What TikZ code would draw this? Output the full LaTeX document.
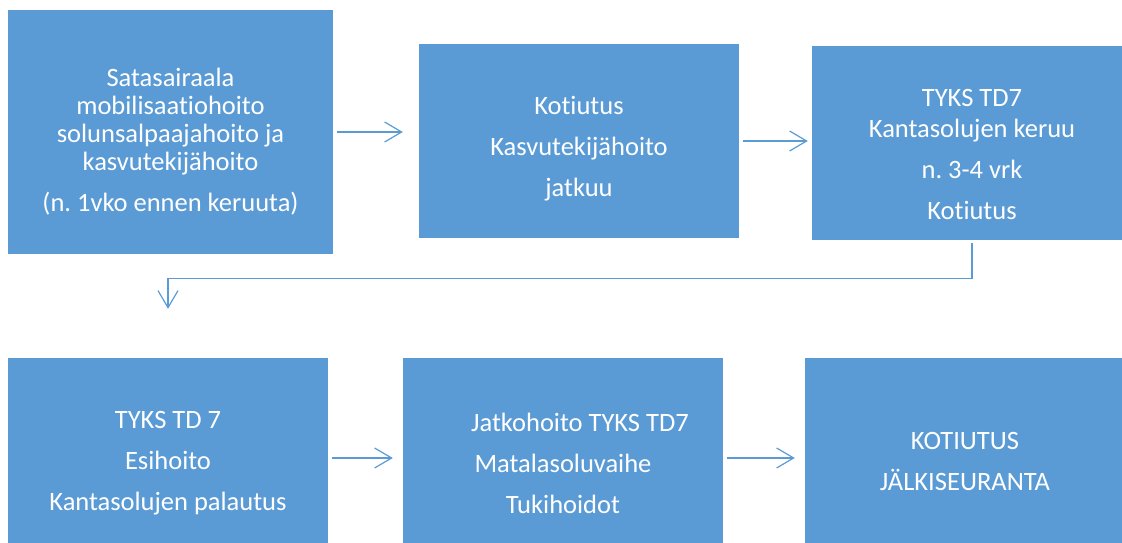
\documentclass[tikz,border=0pt]{standalone}
\usepackage{fontspec}
\setmainfont{Carlito}[Ligatures=NoCommon]
\usetikzlibrary{arrows.meta}
\definecolor{boxblue}{HTML}{5B9BD5}
\frenchspacing

\begin{document}
\begin{tikzpicture}[x=1pt, y=-1pt,
box/.style={fill=boxblue, draw=none, minimum width=320pt, minimum height=193pt, inner sep=0pt},
txt/.style={text=white, align=center, font=\fontsize{26.5}{41}\selectfont},
arr/.style={draw=boxblue, line width=1.2pt, -{Straight Barb[length=17pt,width=20pt]}}]
\clip (0,0) rectangle (1122,543);
\node[box, minimum width=325pt, minimum height=244pt] (sat) at (170.5,132) {};
\node[box] (koti) at (579,141) {};
\node[box] (keruu) at (972,143) {};
\node[box, minimum height=200pt] (esih) at (168,458) {};
\node[box, minimum height=200pt] (jatko) at (563,458) {};
\node[box, minimum height=200pt] (seur) at (965,458) {};
\node[txt, font=\fontsize{26.5}{28}\selectfont] (sattxt) at ([yshift=-10pt]sat.center)
  {Satasairaala\\ mobilisaatiohoito\\ solunsalpaajahoito ja\\ kasvutekijähoito\\[13pt] (n. 1vko ennen keruuta)};
\node[txt] (kotitxt) at ([yshift=-8pt]koti.center) {Kotiutus\\ Kasvutekijähoito\\ jatkuu};
\node[txt] (kerutxt) at ([yshift=-11pt]keruu.center) {TYKS TD7\\[-10pt] Kantasolujen keruu\\ n. 3-4 vrk\\ Kotiutus};
\node[txt] (esihtxt) at ([yshift=-5pt]esih.center) {TYKS TD 7\\ Esihoito\\ Kantasolujen palautus};
\node[txt] (jatktxt) at ([yshift=-5pt]jatko.center) {\hspace*{34pt}Jatkohoito TYKS TD7\\ Matalasoluvaihe\\ Tukihoidot};
\node[txt] (seurtxt) at ([yshift=-3pt]seur.center) {KOTIUTUS\\ JÄLKISEURANTA};
\draw[arr] ([xshift=4pt]sat.east) -- ([xshift=-16pt]koti.west |- sat.east);
\draw[arr] ([xshift=4pt]koti.east) -- ([xshift=-4pt]keruu.west |- koti.east);
\draw[arr] ([yshift=-3pt]keruu.south) -- ++(0,36) -| ([yshift=49pt]esih.north);
\draw[arr] ([xshift=4pt]esih.east) -- ([xshift=-10pt]jatko.west);
\draw[arr] ([xshift=4pt]jatko.east) -- ([xshift=-10pt]seur.west);
\end{tikzpicture}
\end{document}
